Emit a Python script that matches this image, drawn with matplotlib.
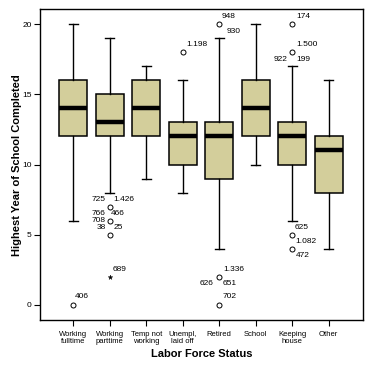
import matplotlib
matplotlib.use("Agg")
import matplotlib.pyplot as plt

plt.rcParams['font.family'] = ['Liberation Sans', 'DejaVu Sans']

categories = ["Working\nfulltime", "Working\nparttime", "Temp not\nworking", "Unempl,\nlaid off",
              "Retired", "School", "Keeping\nhouse", "Other"]
q1 = [12, 12, 12, 10, 9, 12, 10, 8]
med = [14, 13, 14, 12, 12, 14, 12, 11]
q3 = [16, 15, 16, 13, 13, 16, 13, 12]
whislo = [6, 8, 9, 8, 4, 10, 6, 4]
whishi = [20, 19, 17, 16, 19, 20, 17, 16]

# outliers (category index, value)
out_cat = [0, 1, 1, 1, 3, 4, 4, 4, 6, 6, 6, 6]
out_val = [0, 7, 6, 5, 18, 20, 2, 0, 20, 18, 5, 4]
# extremes
ext_cat = [1]
ext_val = [2]

# labels: (category index, value, text, dx px, dy px, ha)
labels = [
    (0, 0, "406", 2, 8, "left"),
    (1, 7, "725", -4, 7, "right"),
    (1, 7, "1.426", 4, 7, "left"),
    (1, 7, "766", -4, -6.5, "right"),
    (1, 7, "466", 1.5, -6.5, "left"),
    (1, 6, "708", -4, 0.5, "right"),
    (1, 6, "38", -3.5, -6.5, "right"),
    (1, 6, "25", 4, -6.5, "left"),
    (1, 2, "689", 3, 7, "left"),
    (3, 18, "1.198", 4, 8, "left"),
    (4, 20, "948", 2.5, 8, "left"),
    (4, 20, "930", 7.5, -7.5, "left"),
    (4, 2, "1.336", 4, 7.5, "left"),
    (4, 2, "626", -6, -6.5, "right"),
    (4, 2, "651", 3, -6.5, "left"),
    (4, 0, "702", 3, 8.5, "left"),
    (6, 20, "174", 4.5, 8, "left"),
    (6, 18, "1.500", 4, 8, "left"),
    (6, 18, "922", -5, -7, "right"),
    (6, 18, "199", 4.5, -7, "left"),
    (6, 5, "625", 2, 7.5, "left"),
    (6, 5, "1.082", 3.5, -7, "left"),
    (6, 4, "472", 3.5, -7, "left"),
]

fig = plt.figure(figsize=(3.71, 3.72), dpi=100)
ax = fig.add_axes([40/371, (372-320)/372, (363-40)/371, (320-9.3)/372])

positions = list(range(1, len(categories) + 1))
stats = []
for i in range(len(categories)):
    stats.append(dict(med=med[i], q1=q1[i], q3=q3[i], whislo=whislo[i], whishi=whishi[i], fliers=[]))

ax.bxp(stats, positions=positions, widths=0.77, patch_artist=True, showfliers=False,
       capwidths=0.24,
       boxprops=dict(facecolor="#D3CE9B", edgecolor="black", linewidth=1.1),
       medianprops=dict(color="black", linewidth=3.2, solid_capstyle="butt"),
       whiskerprops=dict(color="black", linewidth=1.0),
       capprops=dict(color="black", linewidth=1.0))

ax.plot([positions[c] for c in out_cat], out_val, linestyle="none", marker="o",
        markersize=3.6, markerfacecolor="white", markeredgecolor="black", markeredgewidth=0.7)
ax.plot([positions[c] for c in ext_cat], ext_val, linestyle="none", marker="*",
        markersize=3.5, color="black", markeredgewidth=0.3)

for c, v, t, dx, dy, ha in labels:
    ax.annotate(t, (positions[c], v), xytext=(dx, dy), textcoords="offset pixels",
                ha=ha, va="center", fontsize=6)

ax.set_xlim(0.09, 8.94)
ax.set_ylim(-1.07, 21.05)
ax.set_xticks(positions)
ax.set_xticklabels(categories, fontsize=5.5, linespacing=1.05)
ax.set_yticks([0, 5, 10, 15, 20])
ax.set_yticklabels(["0", "5", "10", "15", "20"], fontsize=6)
ax.tick_params(axis="both", direction="out", length=4, width=0.8, pad=2)
ax.tick_params(axis="x", pad=4)
for s in ax.spines.values():
    s.set_linewidth(1.0)

ax.set_xlabel("Labor Force Status", fontsize=8, fontweight="bold")
ax.set_ylabel("Highest Year of School Completed", fontsize=8, fontweight="bold")
ax.yaxis.set_label_coords(-0.056, 0.5)
ax.xaxis.set_label_coords(0.5, -0.092)

fig.savefig("out.png", dpi=100)
